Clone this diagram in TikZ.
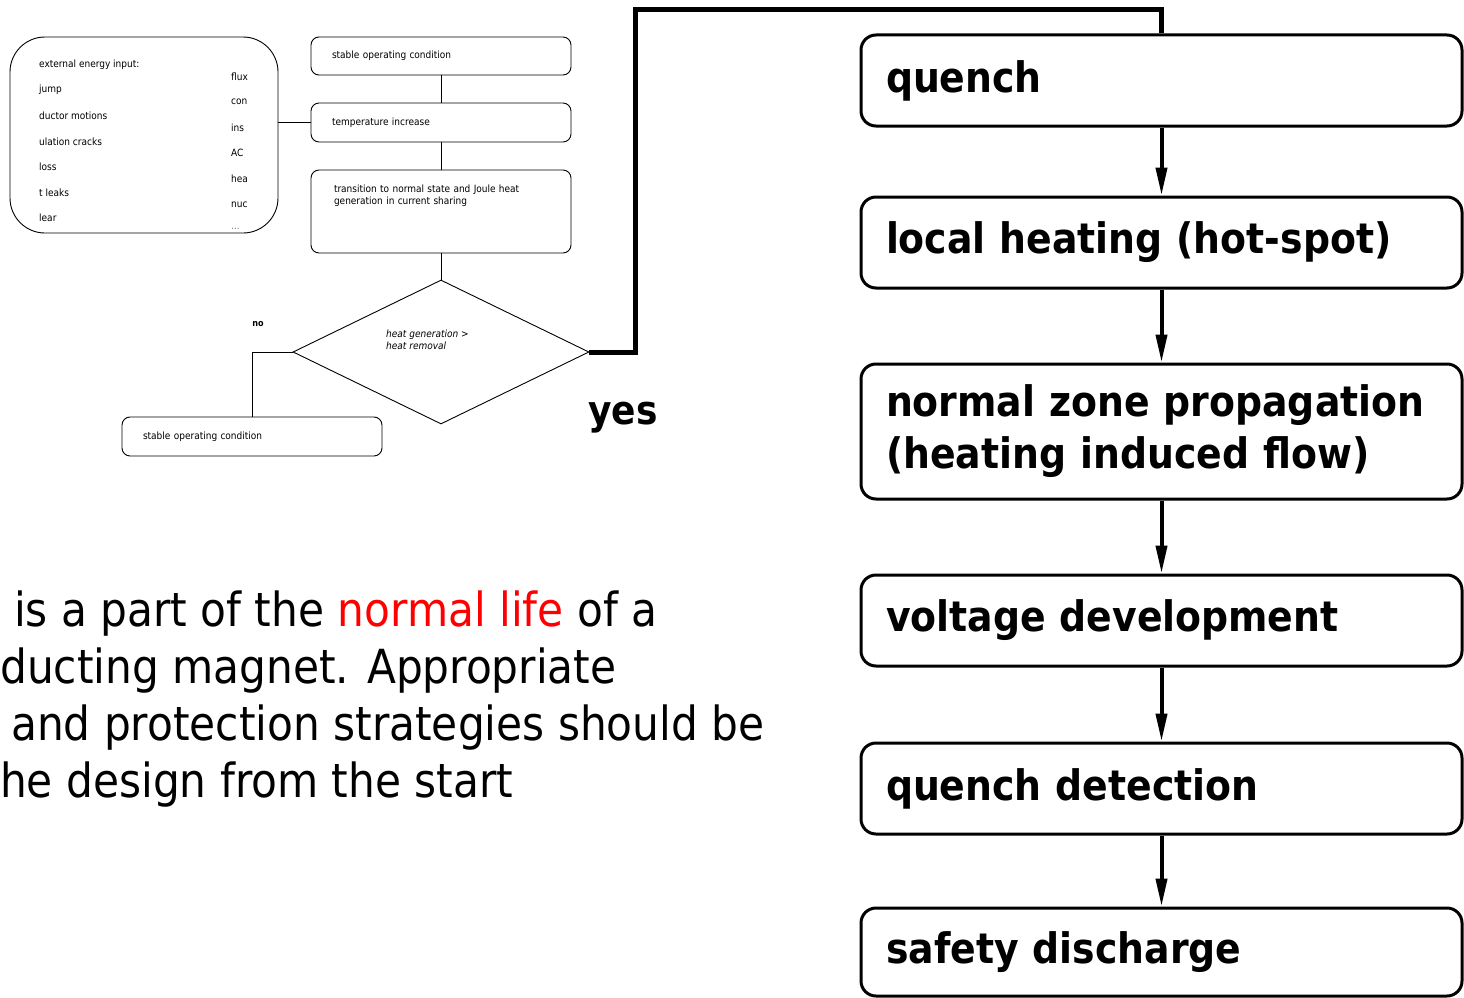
\documentclass[tikz,border=0pt]{standalone}
\usepackage{fontspec}
\setmainfont{DejaVu Sans Condensed}
\usetikzlibrary{shapes.geometric,arrows.meta}
\definecolor{hilite}{RGB}{255,0,0}
\begin{document}
\begin{tikzpicture}[x=1pt,y=-1pt,
  smallbox/.style={draw, rounded corners=8pt, line width=0.9pt, minimum width=260,
    text width=218, inner xsep=21, inner ysep=0, align=left,
    font=\fontsize{10}{12}\selectfont},
  tinytext/.style={anchor=west, inner sep=0, font=\fontsize{10}{12}\selectfont},
  thin/.style={line width=0.9pt},
  bigbox/.style={draw, rounded corners=15pt, line width=3pt, minimum width=601,
    text width=551, inner xsep=25, inner ysep=0, align=left,
    font=\fontsize{42}{52}\selectfont\bfseries},
  flowarrow/.style={line width=4pt, -{Triangle[length=28pt,width=11pt]}},
  yesline/.style={line width=5pt},
  bodytext/.style={anchor=base west, inner sep=0, font=\fontsize{47}{57}\selectfont}]
\useasboundingbox (0,0) rectangle (1464,998);

% ---- input box ----
\node[draw, thin, rounded corners=35pt, minimum width=268, minimum height=196, inner sep=0]
  (inputs) at (144,135) {};
\node[tinytext] (i0) at (39,64.5) {external energy input:};
\node[tinytext] (i1) at (39,89.5) {jump};
\node[tinytext] (i2) at (39,115.5) {ductor motions};
\node[tinytext] (i3) at (39,141.5) {ulation cracks};
\node[tinytext] (i4) at (39,166.5) {loss};
\node[tinytext] (i5) at (39,192.5) {t leaks};
\node[tinytext] (i6) at (39,217.5) {lear};
\node[tinytext] (r1) at (231,77) {flux};
\node[tinytext] (r2) at (231,102) {con};
\node[tinytext] (r3) at (231,128) {ins};
\node[tinytext] (r4) at (231,153) {AC};
\node[tinytext] (r5) at (231,179) {hea};
\node[tinytext] (r6) at (231,205) {nuc};
\node[tinytext, text=black!50] (r7) at (231,229) {...};

% ---- small flow chart ----
\node[smallbox, minimum height=38] (s1) at (441,56) {stable operating condition};
\node[smallbox, minimum height=39] (s2) at (441,122.5) {temperature increase};
\node[smallbox, minimum height=83] (s3) at (441,211.5)
  {\parbox[c][54pt][t]{218pt}{\raggedright\hspace*{2pt}transition to normal state and Joule heat\\\hspace*{2pt}generation in current sharing}};
\node[draw, thin, diamond, minimum width=296, minimum height=144, inner sep=0] (dec) at (441,352) {};
\node[anchor=north west, inner sep=0, align=left, font=\fontsize{10}{12}\selectfont\itshape]
  (dtext) at (386,329.5) {heat generation >\\heat removal};
\node[smallbox, minimum height=39] (s4) at (252,436.5) {stable operating condition};
\node[inner sep=0, font=\fontsize{9}{11}\selectfont\bfseries] (no) at (258,324) {no};

\draw[thin] (s2.west -| inputs.east) -- (s2.west);
\draw[thin] (s1.south) -- (s2.north);
\draw[thin] (s2.south) -- (s3.north);
\draw[thin] (s3.south) -- (dec.north);
\draw[thin] (dec.west) -| (s4.north);

% ---- quench sequence ----
\node[bigbox, minimum height=91] (q1) at (1161.5,80.5) {quench};
\node[bigbox, minimum height=91] (q2) at (1161.5,242.5) {local heating (hot-spot)};
\node[bigbox, minimum height=135] (q3) at (1161.5,431.5) {normal zone propagation\\(heating induced flow)};
\node[bigbox, minimum height=91] (q4) at (1161.5,620.5) {voltage development};
\node[bigbox, minimum height=91] (q5) at (1161.5,788.5) {quench detection};
\node[bigbox, minimum height=88] (q6) at (1161.5,952) {safety discharge};

\draw[yesline] (dec.east) -- ++(46,0) coordinate (yc1) -- (yc1 |- 0,10) -| (q1.north);
\node[inner sep=0, font=\fontsize{40}{48}\selectfont\bfseries] (yes) at (623,418) {yes};

\draw[flowarrow] (q1.south) -- (q2.north);
\draw[flowarrow] (q2.south) -- (q3.north);
\draw[flowarrow] (q3.south) -- (q4.north);
\draw[flowarrow] (q4.south) -- (q5.north);
\draw[flowarrow] (q5.south) -- (q6.north);

% ---- statement ----
\node[bodytext] (t1) at (14,626) {is a part of the \textcolor{hilite}{normal life} of a};
\node[bodytext] (t2) at (0,683) {ducting magnet. Appropriate};
\node[bodytext] (t3) at (11,740) {and protection strategies should be};
\node[bodytext] (t4) at (0,797) {he design from the start};
\end{tikzpicture}
\end{document}
